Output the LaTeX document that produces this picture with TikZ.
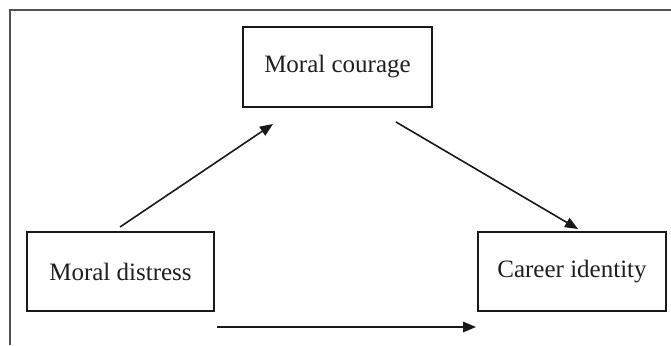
\documentclass[tikz,border=0pt]{standalone}
\usepackage{fontspec}
\setmainfont{Liberation Serif}
\usetikzlibrary{arrows.meta}
\begin{document}
\begin{tikzpicture}[x=1pt,y=-1pt,
  box/.style={draw=black!90, line width=1.6pt, fill=white, inner sep=0pt,
    font=\fontsize{25}{28}\selectfont, text=black!88},
  link/.style={line width=1.6pt, draw=black!90, -{Triangle[length=13pt,width=10.5pt]}},
  frame/.style={draw=black!68, line width=2.2pt}]
\useasboundingbox (0,0) rectangle (671,345);
\draw[frame] (10,345) -- (10,10) -- (671,10);
\node[box, minimum width=189pt, minimum height=80pt] (courage) at (337.5,67) {Moral courage};
\node[box, minimum width=187pt, minimum height=79pt] (distress) at (120.5,271.5) {Moral distress};
\node[box, minimum width=188pt, minimum height=79pt] (career) at (572,271.5) {Career identity};
\coordinate (a1s) at (120,227);
\coordinate (a1e) at (273,124);
\coordinate (a2s) at (396,122);
\coordinate (a2e) at (578,229);
\coordinate (a3s) at (217,327);
\coordinate (a3e) at (476,327);
\draw[link] (a1s) -- (a1e);
\draw[link] (a2s) -- (a2e);
\draw[link] (a3s) -- (a3e);
\end{tikzpicture}
\end{document}
